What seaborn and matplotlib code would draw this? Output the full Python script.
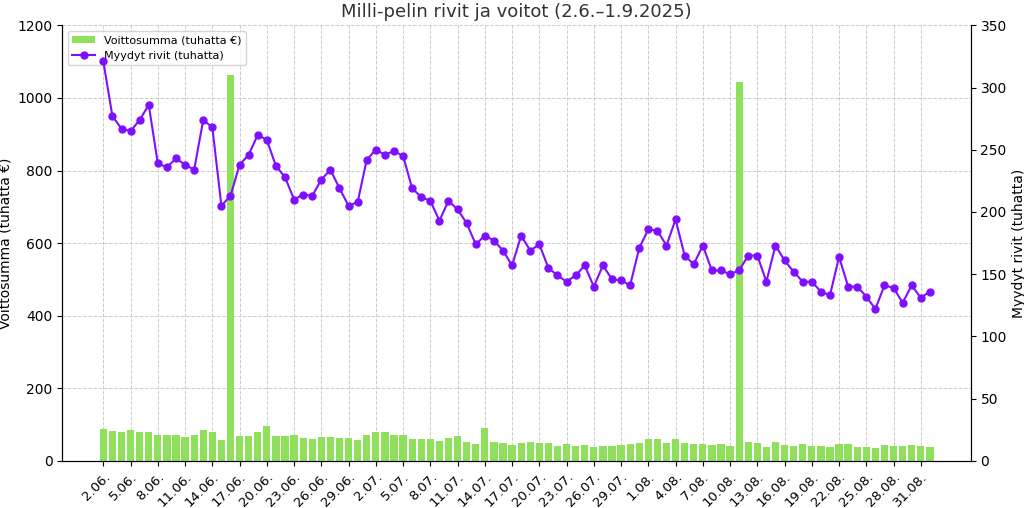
import matplotlib
matplotlib.use("Agg")
import matplotlib.pyplot as plt
import seaborn as sns
import pandas as pd
import numpy as np

paivat = pd.date_range("2025-06-02", "2025-09-01", freq="D")
paiva_labels = [f"{d.day}.{d.month:02d}." for d in paivat]

voittosumma = [88, 82, 78, 86, 78, 80, 70, 70, 70, 66, 70, 84, 80, 57, 1062, 68,
               68, 80, 95, 68, 68, 70, 62, 60, 66, 66, 62, 64, 58, 70, 78, 78,
               72, 70, 60, 60, 60, 55, 62, 68, 52, 47, 90, 52, 50, 43, 50, 53,
               50, 50, 42, 45, 40, 44, 38, 42, 40, 43, 45, 50, 60, 60, 48, 60,
               50, 45, 47, 44, 47, 40, 1045, 52, 48, 38, 52, 44, 42, 45, 42, 40,
               38, 45, 45, 38, 37, 36, 44, 40, 40, 43, 40, 38]

myydyt_rivit = [321, 277, 267, 265, 274, 286, 239, 236, 243, 238, 234, 274, 268,
                205, 213, 238, 246, 262, 258, 237, 228, 210, 214, 213, 226, 234,
                219, 205, 208, 242, 250, 246, 249, 245, 219, 212, 209, 193, 209,
                202, 191, 174, 181, 177, 169, 157, 181, 169, 174, 155, 149, 144,
                149, 157, 140, 157, 146, 145, 141, 171, 186, 185, 173, 194, 165,
                158, 173, 153, 153, 150, 153, 165, 165, 144, 173, 161, 152, 144,
                144, 136, 133, 164, 140, 140, 132, 122, 141, 139, 127, 141, 131, 136]

df = pd.DataFrame({"paiva": paiva_labels, "voitto": voittosumma, "rivit": myydyt_rivit})

fig, ax = plt.subplots(figsize=(10.24, 5.08), dpi=100)
fig.subplots_adjust(left=0.061, right=0.948, top=0.95, bottom=0.093)

sns.barplot(data=df, x="paiva", y="voitto", color="#8fe05a", saturation=1,
            width=0.8, ax=ax, label="Voittosumma (tuhatta €)", zorder=2)
ax.set_ylim(0, 1200)
ax.set_xlim(-4.5, len(df) + 3.5)
ax.set_ylabel("Voittosumma (tuhatta €)")
ax.set_xlabel("")
ax.grid(True, linestyle="--", color="#cccccc", linewidth=0.7, zorder=0)
ax.set_axisbelow(True)
ticks = np.arange(0, len(df) - 1, 3)
ax.set_xticks(ticks)
ax.set_xticklabels([paiva_labels[i] for i in ticks], rotation=45, ha="right",
                   rotation_mode="anchor", fontsize=9.5)

ax2 = ax.twinx()
ax2.plot(np.arange(len(df)), df["rivit"], color="#7f0fff", marker="o",
         markersize=5, linewidth=1.5, label="Myydyt rivit (tuhatta)")
ax2.set_ylim(0, 350)
ax2.set_ylabel("Myydyt rivit (tuhatta)")

ax.spines["top"].set_visible(False)
ax2.spines["top"].set_visible(False)

h1, l1 = ax.get_legend_handles_labels()
h2, l2 = ax2.get_legend_handles_labels()
ax.legend(h1 + h2, l1 + l2, loc="upper left", fontsize=8)

ax.set_title("Milli-pelin rivit ja voitot (2.6.–1.9.2025)", fontsize=13, color="#333333")
fig.savefig("out.png", dpi=100)
